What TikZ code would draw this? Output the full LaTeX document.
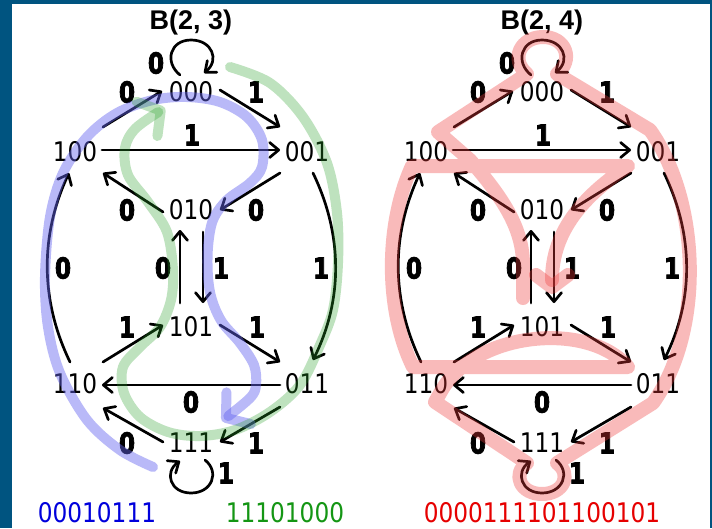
\documentclass[tikz,border=0pt]{standalone}
\usepackage{fontspec}
\usetikzlibrary{arrows.meta,calc}
\newfontfamily\nodefont{DejaVu Sans}[FakeStretch=0.86]
\newfontfamily\lblfamily{DejaVu Sans}[FakeStretch=0.8, FakeBold=2.5]
\newfontfamily\titlefamily{Liberation Sans}
\definecolor{bgblue}{RGB}{0,84,128}
\definecolor{hlblue}{RGB}{100,100,240}
\definecolor{hlgreen}{RGB}{40,160,40}
\definecolor{hlred}{RGB}{240,60,60}
\definecolor{txtblue}{RGB}{0,0,220}
\definecolor{txtgreen}{RGB}{20,150,20}
\definecolor{txtred}{RGB}{230,0,0}
\tikzset{
  vtx/.style={inner sep=0pt, font=\nodefont\fontsize{27}{27}\selectfont},
  lbl/.style={inner sep=0pt, font=\lblfamily\bfseries\fontsize{29}{29}\selectfont},
  ttl/.style={inner sep=0pt, font=\titlefamily\bfseries\fontsize{27}{27}\selectfont},
  seq/.style={inner sep=0pt, font=\nodefont\fontsize{27}{27}\selectfont},
  dbedge/.style={draw=black, line width=2.7pt, line cap=round,
    -{Straight Barb[length=9pt,width=15pt,round]}},
  hl/.style={line width=10pt, line cap=round, line join=round},
  bluehl/.style={hl, draw=hlblue, draw opacity=0.45,
    -{Straight Barb[length=16pt,width=40pt,round]}},
  greenhl/.style={hl, draw=hlgreen, draw opacity=0.3,
    -{Straight Barb[length=16pt,width=40pt,round]}},
  redhl/.style={line width=14pt, line cap=round, line join=round,
    draw=hlred, draw opacity=0.35,
    -{Straight Barb[length=12pt,width=32pt,round]}},
}
% #1 = name prefix, #2 = x offset
\newcommand\dbgraph[2]{%
  \node[vtx] (#1000) at (191+#2,92) {000};
  \node[vtx] (#1100) at (75+#2,152) {100};
  \node[vtx] (#1001) at (307+#2,152) {001};
  \node[vtx] (#1010) at (191+#2,210) {010};
  \node[vtx] (#1101) at (191+#2,327) {101};
  \node[vtx] (#1110) at (75+#2,384) {110};
  \node[vtx] (#1011) at (307+#2,384) {011};
  \node[vtx] (#1111) at (191+#2,443) {111};
  % edges
  \draw[dbedge] ($(#1100)+(28,-25)$) -- ($(#1000)+(-29,-1)$);
  \draw[dbedge] ($(#1000)+(29,-2)$) -- ($(#1001)+(-27,-25)$);
  \draw[dbedge] ($(#1100)+(27,-2)$) -- ($(#1001)+(-27,-2)$);
  \draw[dbedge] ($(#1001)+(-27,21)$) -- ($(#1010)+(29,0)$);
  \draw[dbedge] ($(#1010)+(-28,2)$) -- ($(#1100)+(28,21)$);
  \draw[dbedge] ($(#1101)+(-11,-24)$) -- ($(#1010)+(-11,20)$);
  \draw[dbedge] ($(#1010)+(12,22)$) -- ($(#1101)+(12,-24)$);
  \draw[dbedge] ($(#1110)+(28,-22)$) -- ($(#1101)+(-28,-2)$);
  \draw[dbedge] ($(#1101)+(29,-2)$) -- ($(#1011)+(-27,-22)$);
  \draw[dbedge] ($(#1011)+(-27,1)$) -- ($(#1110)+(27,1)$);
  \draw[dbedge] ($(#1111)+(-28,-1)$) -- ($(#1110)+(28,24)$);
  \draw[dbedge] ($(#1011)+(-27,23)$) -- ($(#1111)+(29,-1)$);
  \draw[dbedge] ($(#1110)+(-5,-22)$) .. controls ($(#1110)+(-35,-84)$) and ($(#1100)+(-35,83)$) .. ($(#1100)+(-6,21)$);
  \draw[dbedge] ($(#1001)+(6,21)$) .. controls ($(#1001)+(36,83)$) and ($(#1011)+(36,-84)$) .. ($(#1011)+(6,-24)$);
  \draw[dbedge] ($(#1000)+(-11,-17)$) .. controls ($(#1000)+(-27,-30)$) and ($(#1000)+(-21,-52)$) .. ($(#1000)+(0,-52)$)
     .. controls ($(#1000)+(21,-52)$) and ($(#1000)+(29,-32)$) .. ($(#1000)+(13,-19)$);
  \draw[dbedge] ($(#1111)+(14,17)$) .. controls ($(#1111)+(29,29)$) and ($(#1111)+(21,50)$) .. ($(#1111)+(0,50)$)
     .. controls ($(#1111)+(-21,50)$) and ($(#1111)+(-27,29)$) .. ($(#1111)+(-11,18)$);
  % labels
  \node[lbl] (#1la) at (156+#2,63) {0};
  \node[lbl] (#1lb) at (127+#2,92) {0};
  \node[lbl] (#1lc) at (256+#2,92) {1};
  \node[lbl] (#1ld) at (192+#2,135) {1};
  \node[lbl] (#1le) at (127+#2,210) {0};
  \node[lbl] (#1lf) at (256+#2,210) {0};
  \node[lbl] (#1lg) at (63+#2,268) {0};
  \node[lbl] (#1lh) at (163+#2,268) {0};
  \node[lbl] (#1li) at (221+#2,268) {1};
  \node[lbl] (#1lj) at (321+#2,268) {1};
  \node[lbl] (#1lk) at (127+#2,327) {1};
  \node[lbl] (#1ll) at (257+#2,327) {1};
  \node[lbl] (#1lm) at (191+#2,402) {0};
  \node[lbl] (#1ln) at (127+#2,443) {0};
  \node[lbl] (#1lo) at (256+#2,443) {1};
  \node[lbl] (#1lp) at (226+#2,473) {1};
}
\begin{document}
\begin{tikzpicture}[x=1pt,y=-1pt]
\useasboundingbox (0,0) rectangle (712,528);
\fill[bgblue] (0,0) rectangle (712,528);
\fill[white] (12,4) rectangle (710,528);

\node[ttl] (t1) at (191,23) {B(2, 3)};
\node[ttl] (t2) at (542,23) {B(2, 4)};

\dbgraph{L}{0}
\dbgraph{R}{351}

% highlight paths, left graph
\draw[bluehl] plot[smooth, tension=0.55] coordinates {
  (153,467) (120,450) (87,420) (60,373) (48,327) (45,277) (50,217) (63,173)
  (87,137) (117,113) (153,100) (187,97) (220,102) (247,117) (262,140) (262,167)
  (250,183) (227,200) (213,220) (208,247) (208,277) (212,300) (222,322) (240,343)
  (254,365) (256,385) (250,398) (222,421)};
\draw[greenhl] plot[smooth, tension=0.55] coordinates {
  (230,67) (270,83) (303,117) (327,163) (337,213) (338,263) (333,310) (320,345)
  (300,385) (270,412) (235,430) (200,436) (168,432) (140,417) (124,393) (123,367)
  (140,347) (160,327) (171,300) (173,270) (167,232) (148,202) (128,175) (125,148)
  (136,128) (165,108)};

% highlight path, right graph
\draw[redhl] (523,298) -- (523,265) .. controls (523,230) and (505,200) .. (470,160) -- (438,132)
  -- (527,74) .. controls (510,60) and (520,37) .. (543,37) .. controls (566,37) and (574,60) .. (557,74)
  -- (650,130) .. controls (700,200) and (705,330) .. (653,403)
  -- (557,463) .. controls (572,474) and (564,494) .. (542,494) .. controls (520,494) and (512,474) .. (527,463)
  -- (435,402) -- (443,388) .. controls (480,330) and (590,322) .. (628,367)
  -- (413,367) .. controls (385,310) and (385,225) .. (412,166)
  -- (628,166) .. controls (585,195) and (552,230) .. (552,294);

% sequences
\node[seq, text=txtblue] (s1) at (97,513) {00010111};
\node[seq, text=txtgreen] (s2) at (285,513) {11101000};
\node[seq, text=txtred] (s3) at (542,513) {0000111101100101};
\end{tikzpicture}
\end{document}
